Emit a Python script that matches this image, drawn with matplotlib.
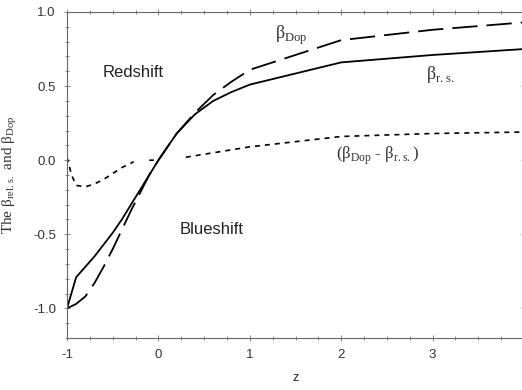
import matplotlib
matplotlib.use("Agg")
import matplotlib.pyplot as plt
import numpy as np
from matplotlib.ticker import MultipleLocator

# values
z_vals = [-1.0, -0.9, -0.8, -0.7, -0.6, -0.5, -0.4, -0.3, -0.2, -0.1, 0.0,
          0.2, 0.4, 0.6, 0.8, 1.0, 2.0, 3.0, 4.0]
beta_rs = [-1.0, -0.79, -0.72, -0.65, -0.57, -0.49, -0.40, -0.30, -0.20, -0.10, 0.0,
           0.18, 0.31, 0.40, 0.46, 0.51, 0.66, 0.71, 0.75]
beta_dop = [-1.0, -0.97, -0.92, -0.83, -0.72, -0.60, -0.47, -0.34, -0.22, -0.10, 0.0,
            0.18, 0.32, 0.44, 0.53, 0.61, 0.81, 0.88, 0.93]

# difference curve (gaps where it is not drawn in the original)
z_diff = [-1.0, -0.95, -0.9, -0.8, -0.7, -0.6, -0.5, -0.4, -0.3, -0.27,
          -0.2, -0.1, -0.05, 0.1, 0.3, 0.5, 1.0, 2.0, 3.0, 4.0]
beta_diff = [0.02, -0.10, -0.17, -0.18, -0.16, -0.13, -0.09, -0.05, -0.02, -0.01,
             np.nan, 0.0, 0.0, np.nan, 0.02, 0.04, 0.09, 0.16, 0.18, 0.19]

plt.rcParams['mathtext.fontset'] = 'custom'
plt.rcParams['mathtext.rm'] = 'Liberation Serif'
serif = 'Liberation Serif'

fig = plt.figure(figsize=(5.22, 3.90), dpi=100)
ax = fig.add_axes([67 / 522, 52 / 390, 457 / 522, 326 / 390])

ax.plot(z_vals, beta_rs, color='black', lw=1.3)
ax.plot(z_vals, beta_dop, color='black', lw=1.3, dashes=(14, 5))
ax.plot(z_diff, beta_diff, color='black', lw=1.2, dashes=(3, 3))

ax.set_xlim(-1, 4)
ax.set_ylim(-1.2, 1.0)
ax.xaxis.set_minor_locator(MultipleLocator(0.25))
ax.yaxis.set_minor_locator(MultipleLocator(0.1))
ax.set_xticks([-1, 0, 1, 2, 3])
ax.set_xticklabels(['-1', '0', '1', '2', '3'])
ax.set_yticks([-1.0, -0.5, 0.0, 0.5, 1.0])
ax.set_yticklabels(['-1.0', '-0.5', '0.0', '0.5', '1.0'])
ax.tick_params(which='both', direction='inout', top=True, right=True,
               width=0.6, color='#777777', labelsize=9.5, labelcolor='#333333',
               labelfontfamily='Liberation Sans')
ax.tick_params(which='major', length=4, pad=6)
ax.tick_params(which='minor', length=3)
for s in ax.spines.values():
    s.set_color('#666666')
    s.set_linewidth(0.8)

ax.set_xlabel('z', fontsize=9, family='Liberation Sans', color='#222222', labelpad=8)
ax.set_ylabel('The β$_{\\mathrm{rel.s.}}$ and β$_{\\mathrm{Dop}}$',
              fontsize=11, family=serif, color='#333333', labelpad=10)

ax.text(-0.28, 0.595, 'Redshift', fontsize=12,
        family='Liberation Sans', color='#222222', ha='center', va='center')
ax.text(0.58, -0.47, 'Blueshift', fontsize=12,
        family='Liberation Sans', color='#222222', ha='center', va='center')
ax.text(1.45, 0.845, 'β$_{\\mathrm{Dop}}$', fontsize=13, family=serif,
        color='#333333', ha='center', va='center')
ax.text(3.08, 0.58, 'β$_{\\mathrm{r.s.}}$', fontsize=13, family=serif,
        color='#333333', ha='center', va='center')
ax.text(2.4, 0.03, '(β$_{\\mathrm{Dop}}$ - β$_{\\mathrm{r.s.}}$)', fontsize=12,
        family=serif, color='#333333', ha='center', va='center')

fig.savefig('out.png', dpi=100)
